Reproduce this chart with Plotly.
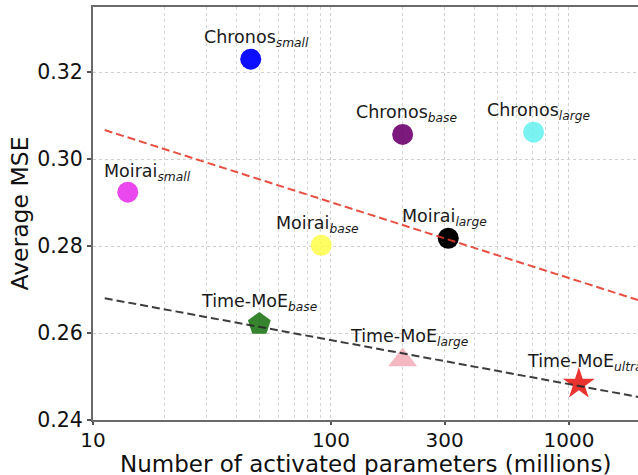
import math
import plotly.graph_objects as go

# ---- data ----
models = ["Chronos", "Chronos", "Chronos", "Moirai", "Moirai", "Moirai",
          "Time-MoE", "Time-MoE", "Time-MoE"]
sizes = ["small", "base", "large", "small", "base", "large",
         "base", "large", "ultra"]
params_m = [46, 200, 710, 14, 91, 311, 50, 200, 1100]
avg_mse = [0.323, 0.3057, 0.3062, 0.2924, 0.2802, 0.2818, 0.2621, 0.2538, 0.2483]

trend_red_x = [11.2, 2000]
trend_red_y = [0.3067, 0.2674]
trend_black_x = [11.2, 2000]
trend_black_y = [0.2680, 0.2452]

x_ticks = [10, 100, 300, 1000]
x_minor = [20, 30, 40, 50, 60, 70, 80, 90, 200, 400, 500, 600, 700, 800, 900]
y_ticks = [0.24, 0.26, 0.28, 0.30, 0.32]
x_title = "Number of activated parameters (millions)"
y_title = "Average MSE"

# ---- styles ----
colors = ["rgba(0,0,255,0.95)", "rgba(110,0,110,0.9)", "rgba(100,240,240,0.85)",
          "rgba(230,40,235,0.85)", "rgba(255,255,60,0.8)", "rgba(0,0,0,1)",
          "rgba(20,110,10,0.85)", "rgba(244,180,190,0.95)", "rgba(232,40,35,0.95)"]
symbols = ["circle"] * 6 + ["pentagon", "triangle-up", "star"]
msizes = [21] * 6 + [24, 25, 24]
label_dx = [6, 4, 5, 20, -4, -4, 0, 6, 6]
label_dy = [21, 21, 21, 20, 21, 21, 21, 23, 21]

FONT = "DejaVu Sans"
fig = go.Figure()

for i in range(len(models)):
    fig.add_trace(go.Scatter(
        x=[params_m[i]], y=[avg_mse[i]], mode="markers",
        marker=dict(color=colors[i], symbol=symbols[i], size=msizes[i], line=dict(width=0)),
        showlegend=False, hoverinfo="skip"))
    fig.add_annotation(
        x=math.log10(params_m[i]), y=avg_mse[i], xref="x", yref="y",
        text=f"{models[i]}<sub><i>{sizes[i]}</i></sub>",
        showarrow=False, xanchor="center", yanchor="middle",
        xshift=label_dx[i], yshift=label_dy[i],
        font=dict(family=FONT, size=17.5, color="#1a1a1a"))

fig.add_trace(go.Scatter(x=trend_red_x, y=trend_red_y, mode="lines",
                         line=dict(color="rgba(230,60,45,0.9)", width=2, dash="8px,4px"),
                         showlegend=False, hoverinfo="skip"))
fig.add_trace(go.Scatter(x=trend_black_x, y=trend_black_y, mode="lines",
                         line=dict(color="rgba(40,40,40,0.9)", width=2, dash="8px,4px"),
                         showlegend=False, hoverinfo="skip"))

# x-axis title as a paper-anchored annotation so it can sit at the bottom edge
fig.add_annotation(
    text=x_title, xref="paper", yref="paper", x=0.5, y=0,
    xanchor="center", yanchor="top", yshift=-29, showarrow=False,
    font=dict(size=23, family=FONT, color="#111"))

fig.update_layout(
    width=638, height=475,
    margin=dict(l=93, r=0, t=7, b=55),
    paper_bgcolor="white", plot_bgcolor="white",
    font=dict(family=FONT, color="#111"),
)
fig.update_xaxes(
    type="log", range=[1, 3.29],
    tickvals=x_ticks, ticktext=[str(v) for v in x_ticks],
    tickfont=dict(size=20, family=FONT, color="#111"),
    ticks="outside", ticklen=3, tickcolor="#555", tickwidth=1.5,
    ticklabelstandoff=-2,
    showline=True, linecolor="#6a6a6a", linewidth=2, mirror=True,
    showgrid=True, gridcolor="#cfcfcf", griddash="dot", gridwidth=1,
    minor=dict(tickvals=x_minor, showgrid=True, gridcolor="#d6d6d6", griddash="dot",
               gridwidth=1, ticks=""),
    zeroline=False, automargin=False,
)
fig.update_yaxes(
    range=[0.24, 0.335],
    tickvals=y_ticks, tickformat=".2f",
    tickfont=dict(size=20.5, family=FONT, color="#111"),
    ticks="outside", ticklen=4, tickcolor="#555", tickwidth=1.5,
    showline=True, linecolor="#6a6a6a", linewidth=2, mirror=False,
    showgrid=True, gridcolor="#cfcfcf", griddash="dot", gridwidth=1,
    title=dict(text=y_title, font=dict(size=23.5, family=FONT, color="#111"), standoff=2),
    zeroline=False, automargin=False,
)

fig.write_html("out.html")
